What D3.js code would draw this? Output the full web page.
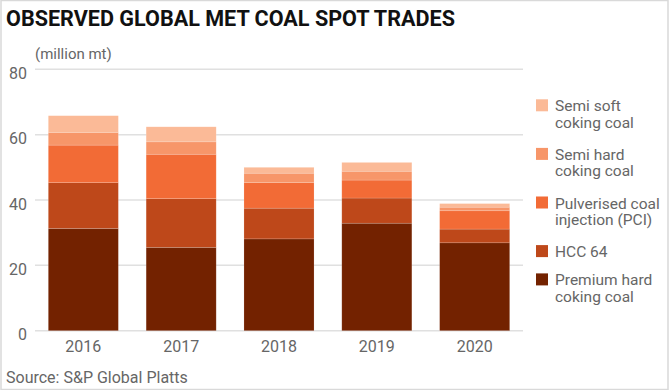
<!DOCTYPE html>
<html>
<head>
<meta charset="utf-8">
<script src="https://cdn.jsdelivr.net/npm/d3@7"></script>
<style>
  html, body { margin: 0; padding: 0; background: #fff; }
  svg { display: block; font-family: Roboto, "Noto Sans", sans-serif; }
</style>
</head>
<body>
<svg id="chart" width="670" height="390"></svg>
<script>
// ---- data ----
const years = ["2016", "2017", "2018", "2019", "2020"];
const premiumHard = [31.3, 25.5, 28.1, 32.9, 26.9];
const hcc64 = [14.0, 14.9, 9.4, 7.7, 4.2];
const pci = [11.5, 13.6, 7.8, 5.5, 5.6];
const semiHard = [3.9, 3.8, 2.9, 2.7, 1.1];
const semiSoft = [5.1, 4.6, 1.8, 2.7, 1.1];
const yTicks = [0, 20, 40, 60, 80];

const seriesNames = ["Premium hard coking coal", "HCC 64", "Pulverised coal injection (PCI)", "Semi hard coking coal", "Semi soft coking coal"];
const seriesValues = [premiumHard, hcc64, pci, semiHard, semiSoft];
const seriesColors = ["#732200", "#be481a", "#f26b36", "#f79669", "#fbba97"];
const legendLines = [["Premium hard", "coking coal"], ["HCC 64"], ["Pulverised coal", "injection (PCI)"], ["Semi hard", "coking coal"], ["Semi soft", "coking coal"]];

const svg = d3.select("#chart");

// border
svg.append("rect").attr("x", 1).attr("y", 0.5).attr("width", 667).attr("height", 389)
  .attr("fill", "none").attr("stroke", "#d9d9d9").attr("stroke-width", 1.5);

// title
svg.append("text").attr("x", 6).attr("y", 26)
  .attr("font-family", "Roboto, sans-serif")
  .attr("font-weight", "bold").attr("font-size", 22.5).attr("fill", "#111")
  .attr("textLength", 449).attr("lengthAdjust", "spacingAndGlyphs")
  .text("OBSERVED GLOBAL MET COAL SPOT TRADES");

const x = d3.scaleBand().domain(years).range([35, 523]).paddingInner(0.284).paddingOuter(0.136);
const y = d3.scaleLinear().domain([0, 80]).range([330.7, 69.3]);

// gridlines
svg.append("g").selectAll("line").data(yTicks).join("line")
  .attr("x1", 35).attr("x2", 523)
  .attr("y1", d => y(d)).attr("y2", d => y(d))
  .attr("stroke", "#e0e0e0").attr("stroke-width", 1.5);

// y axis labels
const yAxis = d3.axisLeft(y).tickValues(yTicks).tickSize(0).tickPadding(0);
const yg = svg.append("g").attr("transform", "translate(27,4)").call(yAxis);
yg.select(".domain").remove();
yg.selectAll("text").attr("font-family", "Roboto, sans-serif").attr("font-size", 16).attr("fill", "#666");

// unit label
svg.append("text").attr("x", 35).attr("y", 59).attr("font-size", 15).attr("fill", "#666").text("(million mt)");

// stacked bars
const table = years.map((yr, i) => {
  const row = { year: yr };
  seriesNames.forEach((s, k) => row[s] = seriesValues[k][i]);
  return row;
});
const stack = d3.stack().keys(seriesNames)(table);
svg.append("g").selectAll("g").data(stack).join("g")
  .attr("fill", (d, i) => seriesColors[i])
  .selectAll("rect").data(d => d).join("rect")
  .attr("x", d => x(d.data.year))
  .attr("width", x.bandwidth())
  .attr("y", d => y(d[1]))
  .attr("height", d => y(d[0]) - y(d[1]))
  .attr("stroke", "rgba(255,255,255,0.25)").attr("stroke-width", 0.6);

// x axis labels
const xAxis = d3.axisBottom(x).tickSize(0).tickPadding(0);
const xg = svg.append("g").attr("transform", "translate(0,341)").call(xAxis);
xg.select(".domain").remove();
xg.selectAll("text").attr("font-family", "Roboto, sans-serif").attr("font-size", 16).attr("fill", "#666").attr("dy", "0.71em");

// legend (top to bottom: reverse of stack order)
const order = [4, 3, 2, 1, 0];
let ly = 99.3;
const lg = svg.append("g");
order.forEach(k => {
  const g = lg.append("g").attr("transform", `translate(0,${ly})`);
  g.append("rect").attr("x", 536).attr("y", 0).attr("width", 12).attr("height", 12).attr("fill", seriesColors[k]);
  legendLines[k].forEach((t, j) => {
    g.append("text").attr("x", 555).attr("y", 12 + j * 16.3)
      .attr("font-size", 15.5).attr("fill", "#666").text(t);
  });
  ly += legendLines[k].length === 2 ? 48.6 : 28.3;
});

// source
svg.append("text").attr("x", 6).attr("y", 382.5).attr("font-size", 16).attr("fill", "#666")
  .text("Source: S&P Global Platts");
</script>
</body>
</html>
